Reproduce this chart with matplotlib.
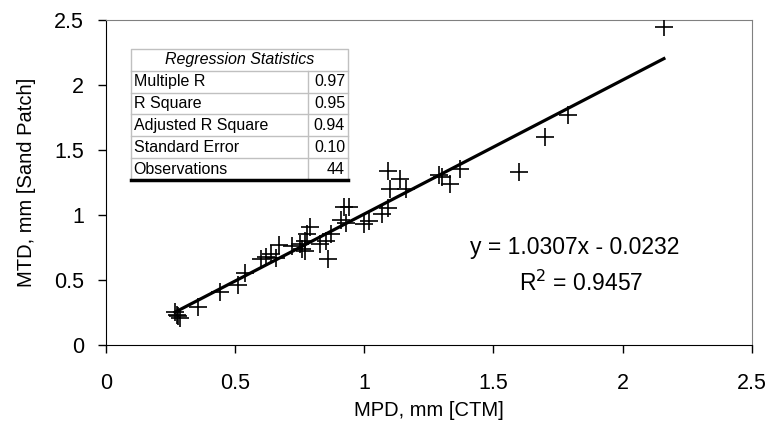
import numpy as np
import matplotlib
matplotlib.use("Agg")
import matplotlib.pyplot as plt

plt.rcParams['font.family'] = ['Liberation Sans', 'DejaVu Sans']

# MPD (CTM) vs MTD (sand patch), 44 observations
mpd = [0.267, 0.275, 0.28, 0.285, 0.355, 0.44, 0.51, 0.54, 0.60, 0.62,
       0.64, 0.66, 0.67, 0.72, 0.75, 0.76, 0.77, 0.77, 0.78, 0.79,
       0.83, 0.85, 0.86, 0.87, 0.91, 0.92, 0.94, 0.93, 1.00, 1.02,
       1.07, 1.09, 1.09, 1.10, 1.14, 1.16, 1.29, 1.30, 1.33, 1.37,
       1.60, 1.70, 1.79, 2.16]
mtd = [0.25, 0.23, 0.22, 0.21, 0.29, 0.41, 0.46, 0.55, 0.66, 0.68,
       0.70, 0.67, 0.77, 0.76, 0.78, 0.74, 0.80, 0.72, 0.85, 0.91,
       0.78, 0.80, 0.66, 0.85, 0.96, 1.06, 1.06, 0.94, 0.93, 0.95,
       1.01, 1.05, 1.34, 1.20, 1.28, 1.20, 1.31, 1.29, 1.24, 1.35,
       1.33, 1.60, 1.77, 2.45]

slope = 1.0307
intercept = -0.0232
r2 = 0.9457

stat_names = ["Multiple R", "R Square", "Adjusted R Square", "Standard Error", "Observations"]
stat_values = ["0.97", "0.95", "0.94", "0.10", "44"]

fig = plt.figure(figsize=(7.71, 4.40), dpi=100)
ax = fig.add_axes([0.1375, 0.216, 0.8375, 0.7385])

ax.plot(mpd, mtd, linestyle='none', marker='+', markersize=12.5,
        markeredgewidth=1.2, color='black', zorder=3)
xl = np.array([min(mpd), max(mpd)])
ax.plot(xl, slope * xl + intercept, color='black', linewidth=2.3, zorder=2)

ax.set_xlim(0, 2.5)
ax.set_ylim(0, 2.5)
ax.set_xticks(np.arange(0, 2.51, 0.5))
ax.set_yticks(np.arange(0, 2.51, 0.5))
ax.set_xticklabels(['0', '0.5', '1', '1.5', '2', '2.5'])
ax.set_yticklabels(['0', '0.5', '1', '1.5', '2', '2.5'])
ax.tick_params(direction='out', length=6, width=1, labelsize=15.5)
ax.tick_params(axis='x', pad=14)
ax.tick_params(axis='y', pad=10)
for s in ['top', 'right']:
    ax.spines[s].set_color('#808080')
for s in ['left', 'bottom']:
    ax.spines[s].set_color('black')
ax.set_xlabel('MPD, mm [CTM]', fontsize=14.5, labelpad=5)
ax.set_ylabel('MTD, mm [Sand Patch]', fontsize=14.5, labelpad=13)

ax.text(1.815, 0.746, 'y = %.4fx - %.4f' % (slope, -intercept), fontsize=16.5, ha='center', va='center')
ax.text(1.84, 0.477, 'R$^2$ = %.4f' % r2, fontsize=16.5, ha='center', va='center')

# regression statistics table
tab = fig.add_axes([0.170, 0.591, 0.281, 0.2976])
tab.set_xlim(0, 1)
tab.set_ylim(0, 1)
tab.axis('off')
nrows = len(stat_names) + 1
h = 1.0 / nrows
split = 0.816
grey = '#c0c0c0'
tab.plot([0, 1, 1, 0, 0], [0, 0, 1, 1, 0], color=grey, lw=1, clip_on=False)
for i in range(1, nrows):
    tab.plot([0, 1], [i * h, i * h], color=grey, lw=1, clip_on=False)
tab.plot([split, split], [0, 1 - h], color=grey, lw=1, clip_on=False)
tab.plot([0, 1], [0, 0], color='black', lw=2.5, clip_on=False)
tab.text(0.5, 1 - h / 2, 'Regression Statistics', style='italic', fontsize=11.5,
         ha='center', va='center')
for i, (n, v) in enumerate(zip(stat_names, stat_values)):
    yc = 1 - h * (i + 1.5)
    tab.text(0.012, yc, n, fontsize=11.5, ha='left', va='center')
    tab.text(0.988, yc, v, fontsize=11.5, ha='right', va='center')

fig.savefig('out.png', dpi=100)
